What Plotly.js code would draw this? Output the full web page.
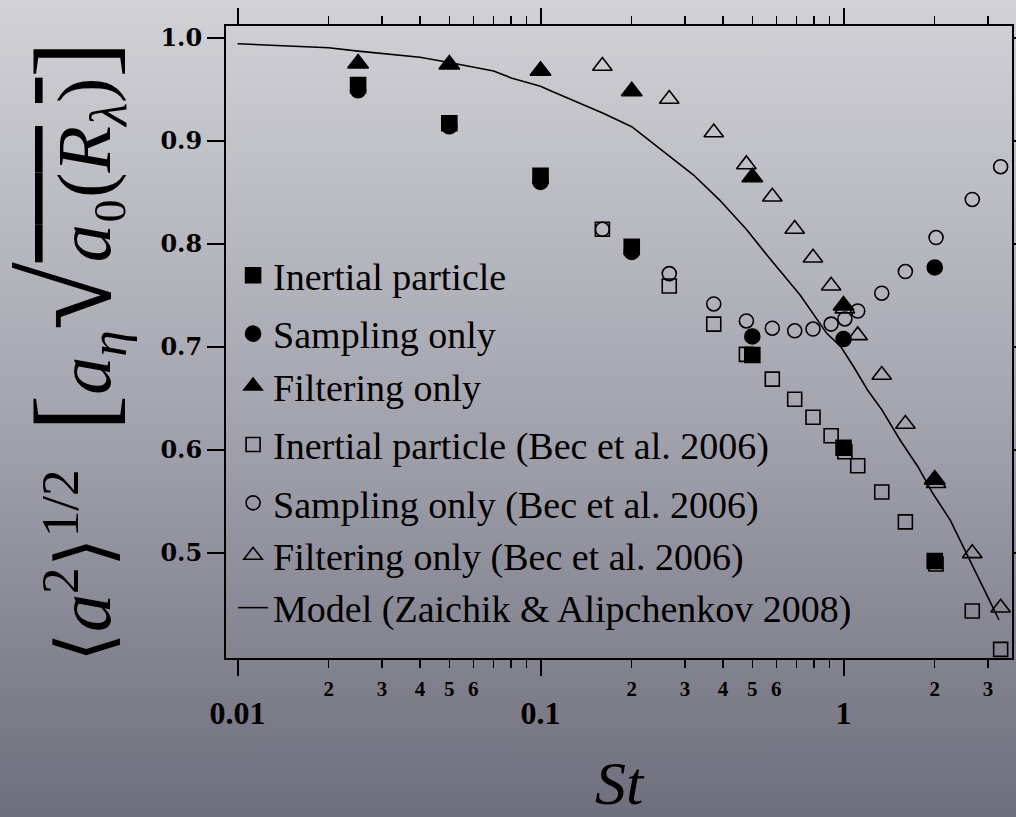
<!DOCTYPE html>
<html><head><meta charset="utf-8">
<script src="https://cdn.plot.ly/plotly-3.0.1.min.js"></script>
<style>
html,body{margin:0;padding:0;width:1016px;height:817px;overflow:hidden;
background:linear-gradient(to bottom,#d1d1d6 0%,#a5a5b0 50%,#6e6e7c 100%);}
#chart{width:1016px;height:817px;}
</style>
</head><body><div id="chart"></div>
<script>
// ---- data ----
const stOwn = [0.025, 0.05, 0.1, 0.2, 0.5, 1.0, 2.0];
const inertialOwn  = [0.954, 0.917, 0.866, 0.797, 0.692, 0.602, 0.492];
const samplingOwn  = [0.949, 0.914, 0.860, 0.792, 0.710, 0.7075, 0.777];
const filteringOwn = [0.975, 0.974, 0.968, 0.948, 0.8645, 0.740, 0.571];

const stBec = [0.16, 0.266, 0.373, 0.478, 0.582, 0.69, 0.793, 0.91, 1.01, 1.114, 1.337, 1.60, 2.02, 2.66, 3.30];
const inertialBec  = [0.814, 0.759, 0.722, 0.6926, 0.6686, 0.649, 0.6315, 0.6136, 0.598, 0.5845, 0.559, 0.530, 0.489, 0.4434, 0.4062];
const samplingBec  = [0.814, 0.771, 0.7415, 0.725, 0.718, 0.7155, 0.7172, 0.722, 0.727, 0.7347, 0.752, 0.773, 0.806, 0.843, 0.8748];
const filteringBec = [0.9725, 0.9405, 0.908, 0.877, 0.8456, 0.8143, 0.7864, 0.7592, 0.737, 0.711, 0.6725, 0.625, 0.5674, 0.4994, 0.4466];

const stModel = [0.01, 0.02, 0.025, 0.04, 0.05, 0.07, 0.08, 0.1, 0.107, 0.161, 0.2, 0.247, 0.32, 0.39, 0.48, 0.57, 0.72, 0.88, 0.98, 1.08, 1.2, 1.34, 1.54, 1.76, 1.97, 2.25, 2.54, 2.88, 3.26];
const model = [0.9942, 0.9903, 0.987, 0.981, 0.976, 0.9677, 0.961, 0.953, 0.949, 0.9266, 0.9136, 0.8926, 0.8667, 0.8424, 0.8133, 0.7858, 0.750, 0.713, 0.700, 0.6806, 0.658, 0.6385, 0.609, 0.5835, 0.5577, 0.5317, 0.4994, 0.467, 0.4347];

const majorTicks = [0.01, 0.1, 1];
const majorLabels = ['0.01', '0.1', '1'];
const minorTicks = [0.02,0.03,0.04,0.05,0.06,0.07,0.08,0.09,0.2,0.3,0.4,0.5,0.6,0.7,0.8,0.9,2,3];
const minorLabelVals = [0.02,0.03,0.04,0.05,0.06,0.2,0.3,0.4,0.5,0.6,2,3];
const minorLabels = ['2','3','4','5','6','2','3','4','5','6','2','3'];
const yTicks = [0.5, 0.6, 0.7, 0.8, 0.9, 1.0];
const yLabels = ['0.5', '0.6', '0.7', '0.8', '0.9', '1.0'];

const names = ['Inertial particle', 'Sampling only', 'Filtering only',
  'Inertial particle (Bec et al. 2006)', 'Sampling only (Bec et al. 2006)',
  'Filtering only (Bec et al. 2006)', 'Model (Zaichik &amp; Alipchenkov 2008)'];

function pts(name, x, y, symbol, size, rank, group) {
  return {type:'scatter', mode:'markers', name:name, x:x, y:y, legendrank:rank, legendgroup:group,
    marker:{symbol:symbol, size:size, color:'#000', line:{color:'#000', width:1.6}}};
}

const data = [
  {type:'scatter', mode:'lines', name:names[6], x:stModel, y:model, xaxis:'x2', legendrank:7, legendgroup:'g4',
   line:{color:'#000', width:1.6}},
  pts(names[3], stBec, inertialBec, 'square-open', 14, 4, 'g3'),
  pts(names[4], stBec, samplingBec, 'circle-open', 14, 5, 'g4'),
  pts(names[5], stBec, filteringBec, 'triangle-up-open', 17, 6, 'g4'),
  pts(names[0], stOwn, inertialOwn, 'square', 15, 1, 'g1'),
  pts(names[1], stOwn, samplingOwn, 'circle', 15, 2, 'g2'),
  pts(names[2], stOwn, filteringOwn, 'triangle-up', 18, 3, 'g2')
];

const xr = [-2.038, 0.556];
const yTitle = '⟨<i>a</i><sup>2</sup>⟩<sup>1/2</sup>  <span style="font-size:110px">[</span><i>a</i><sub><i>η</i></sub><span style="font-size:124px">√</span><span style="text-decoration:overline"><i>a</i>₀(<i>R</i></span><sub><i>λ</i></sub><span style="text-decoration:overline">)</span><span style="font-size:110px">]</span>&nbsp;';

const layout = {
  width:1016, height:817,
  margin:{l:226, r:4, t:26, b:159},
  paper_bgcolor:'rgba(0,0,0,0)', plot_bgcolor:'rgba(0,0,0,0)',
  showlegend:true,
  legend:{x:0.009, y:0.655, xanchor:'left', yanchor:'top', bgcolor:'rgba(0,0,0,0)',
    font:{family:'Liberation Serif', size:38, color:'#000'}, tracegroupgap:6, traceorder:'grouped'},
  xaxis:{type:'log', range:xr, autorange:false, tickmode:'array', tickvals:majorTicks, ticktext:majorLabels,
    ticks:'outside', ticklen:16, tickwidth:2, tickcolor:'#000',
    showline:true, linewidth:2, linecolor:'#000', mirror:'ticks', showgrid:false, zeroline:false,
    tickfont:{family:'Liberation Serif', size:32, color:'#000', weight:'bold'}, ticklabelstandoff:10,
    minor:{tickmode:'array', tickvals:minorTicks, ticklen:8, tickwidth:1.5, tickcolor:'#000', ticks:'outside', showgrid:false},
    title:{text:'<i>St</i>', font:{family:'Liberation Serif', size:62, color:'#000'}, standoff:40}},
  xaxis2:{type:'log', range:xr, autorange:false, overlaying:'x', side:'bottom', anchor:'y',
    tickmode:'array', tickvals:minorLabelVals, ticktext:minorLabels, ticks:'', showline:false,
    showgrid:false, zeroline:false, ticklabelstandoff:16,
    tickfont:{family:'Liberation Serif', size:21, color:'#000', weight:'bold'}},
  yaxis:{range:[0.3978, 1.0114], autorange:false, tickmode:'array', tickvals:yTicks, ticktext:yLabels,
    ticks:'outside', ticklen:17, tickwidth:2, tickcolor:'#000',
    showline:true, linewidth:2, linecolor:'#000', mirror:'ticks', showgrid:false, zeroline:false,
    tickfont:{family:'DejaVu Serif', size:24, color:'#000', weight:'bold'},
    title:{text:yTitle, font:{family:'Liberation Serif', size:76, color:'#000'}, standoff:30}}
};

Plotly.newPlot('chart', data, layout, {displayModeBar:false, staticPlot:true});
</script></body></html>
